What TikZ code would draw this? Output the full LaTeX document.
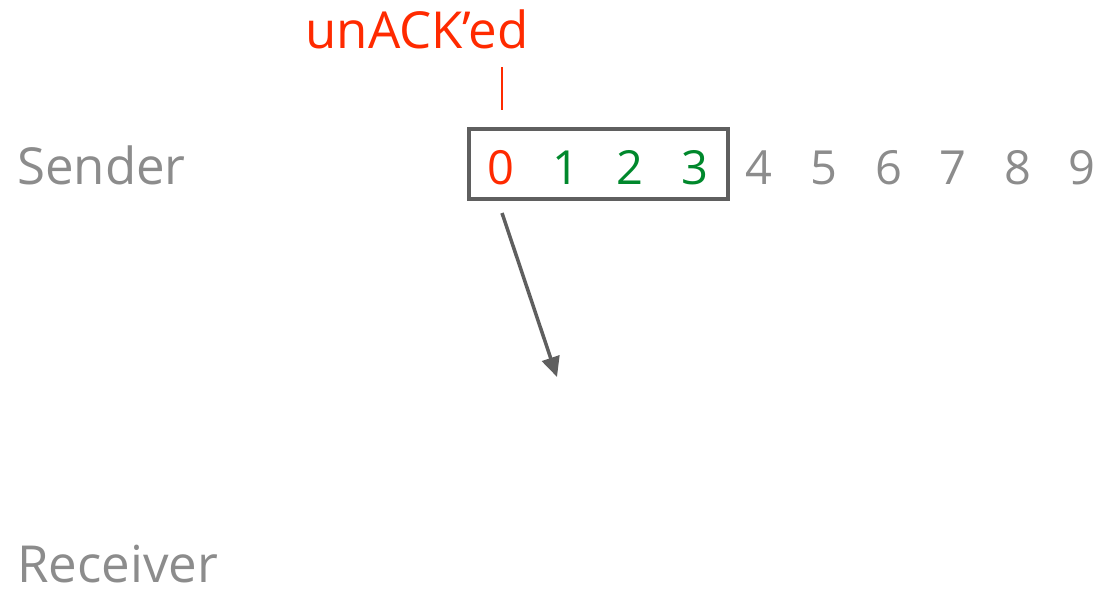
\documentclass[tikz,border=0pt]{standalone}
\usepackage{fontspec}
\setmainfont{Open Sans}
\usetikzlibrary{arrows.meta,fit}
\definecolor{ared}{HTML}{FF2A00}
\definecolor{agreen}{HTML}{00882C}
\definecolor{agray}{HTML}{8C8C8C}
\definecolor{adark}{HTML}{5F5F5F}
\tikzset{
  lbl/.style={font=\fontsize{47}{50}\selectfont, inner sep=0pt, anchor=base},
  word/.style={font=\fontsize{51}{54}\selectfont, inner sep=0pt},
  seqnum/.style={lbl, text=agray},
}
\begin{document}
\begin{tikzpicture}[x=1pt,y=-1pt]
\useasboundingbox (0,0) rectangle (1102,595);
\node[word, anchor=base west, text=agray] (sender) at (17,184) {Sender};
\node[word, anchor=base west, text=agray] (receiver) at (17,582) {Receiver};
\node[lbl, text=ared] (d0) at (501,184) {0};
\node[lbl, text=agreen] (d1) at (565.6,184) {1};
\node[lbl, text=agreen] (d2) at (630.2,184) {2};
\node[lbl, text=agreen] (d3) at (694.8,184) {3};
\node[seqnum] (d4) at (759.4,184) {4};
\node[seqnum] (d5) at (824,184) {5};
\node[seqnum] (d6) at (888.6,184) {6};
\node[seqnum] (d7) at (953.2,184) {7};
\node[seqnum] (d8) at (1017.8,184) {8};
\node[seqnum] (d9) at (1082.4,184) {9};
\draw[adark, line width=3.5pt] (469,129) rectangle (728,199);
\node[word, anchor=base, text=ared] (unack) at (417,48) {unACK’ed};
\coordinate (tickTop) at (502,67);
\coordinate (tickBot) at (502,110);
\draw[ared, line width=1.3pt] (tickTop) -- (tickBot);
\coordinate (aStart) at (502,213);
\coordinate (aEnd) at (557,377);
\draw[adark, line width=3.5pt, -{Triangle[length=20pt,width=18pt]}] (aStart) -- (aEnd);
\end{tikzpicture}
\end{document}
